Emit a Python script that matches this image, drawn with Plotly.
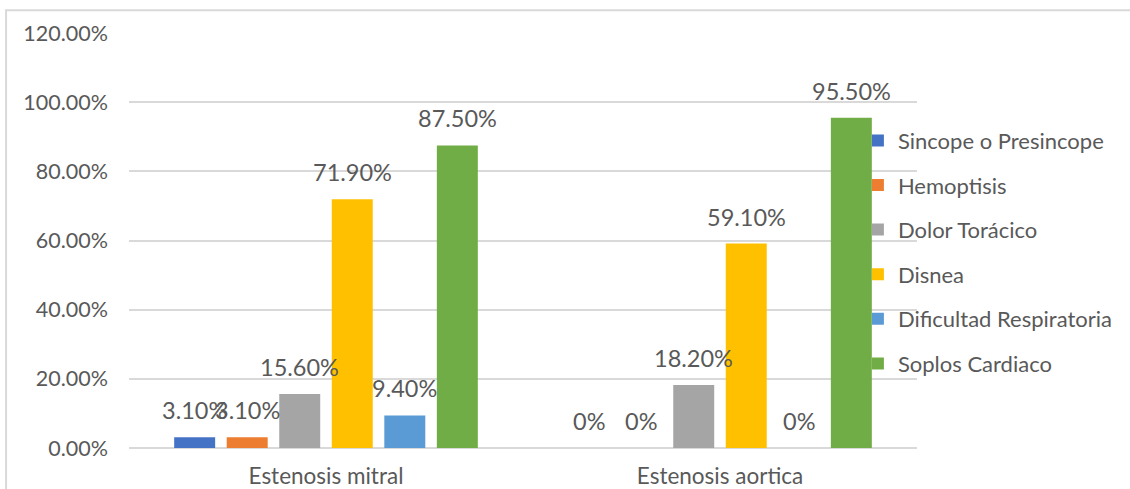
import plotly.graph_objects as go

# Datos: porcentaje de cada síntoma por tipo de estenosis
categorias = ["Estenosis mitral", "Estenosis aortica"]
sintomas = [
    "Sincope o Presincope",
    "Hemoptisis",
    "Dolor Torácico",
    "Disnea",
    "Dificultad Respiratoria",
    "Soplos Cardiaco",
]
valores_mitral = [3.1, 3.1, 15.6, 71.9, 9.4, 87.5]
valores_aortica = [0.0, 0.0, 18.2, 59.1, 0.0, 95.5]
colores = ["#4472C4", "#ED7D31", "#A5A5A5", "#FFC000", "#5B9BD5", "#70AD47"]
ticks_y = [0, 20, 40, 60, 80, 100, 120]

FONT = "Lato"
GRIS_TEXTO = "#595959"
GRIS_LINEA = "#D9D9D9"
BARGAP = 0.2

fig = go.Figure()
for i, nombre in enumerate(sintomas):
    fig.add_trace(go.Bar(
        name=nombre,
        x=categorias,
        y=[valores_mitral[i], valores_aortica[i]],
        marker=dict(color=colores[i], line=dict(width=0)),
        legendgroup=nombre,
        hoverinfo="skip",
    ))


def etiqueta(v):
    return "0%" if v == 0 else f"{v:.2f}%"


# Etiquetas de datos sobre cada barra
n = len(sintomas)
ancho_slot = (1 - BARGAP) / n
for c, serie in enumerate([valores_mitral, valores_aortica]):
    for i, v in enumerate(serie):
        fig.add_annotation(
            x=c - (1 - BARGAP) / 2 + (i + 0.5) * ancho_slot,
            y=v,
            xref="x", yref="y",
            text=etiqueta(v),
            showarrow=False,
            yanchor="bottom",
            yshift=11,
            font=dict(family=FONT, size=23.5, color=GRIS_TEXTO),
        )

# Marco exterior del gráfico
fig.add_shape(
    type="rect", xref="paper", yref="paper",
    x0=-0.156, x1=1.3, y0=-0.2, y1=1.055,
    line=dict(color="#D9D9D9", width=2), fillcolor="rgba(0,0,0,0)",
    layer="below",
)

fig.update_layout(
    width=1130, height=489,
    margin=dict(l=129, r=213, t=33, b=41),
    paper_bgcolor="white", plot_bgcolor="white",
    barmode="group", bargap=BARGAP, bargroupgap=0.22,
    font=dict(family=FONT, color=GRIS_TEXTO),
    showlegend=True,
    legend=dict(
        x=0.925, xanchor="left", y=0.472, yanchor="middle",
        font=dict(family=FONT, size=22, color=GRIS_TEXTO),
        bgcolor="rgba(0,0,0,0)", tracegroupgap=13,
        traceorder="grouped",
    ),
    xaxis=dict(
        type="category", showgrid=False, showline=False, ticks="",
        tickfont=dict(family=FONT, size=22.5, color=GRIS_TEXTO),
        range=[-0.5, 1.5], ticklabelstandoff=12, automargin=False,
    ),
    yaxis=dict(
        range=[0, 120], tickvals=ticks_y,
        ticktext=[f"{t:.2f}%" for t in ticks_y],
        showgrid=True, gridcolor=GRIS_LINEA, gridwidth=1.5,
        zeroline=True, zerolinecolor=GRIS_LINEA, zerolinewidth=1.5,
        showline=False, ticks="", ticklabelstandoff=20, automargin=False,
        tickfont=dict(family=FONT, size=21.5, color=GRIS_TEXTO),
    ),
)

fig.write_html("out.html")
